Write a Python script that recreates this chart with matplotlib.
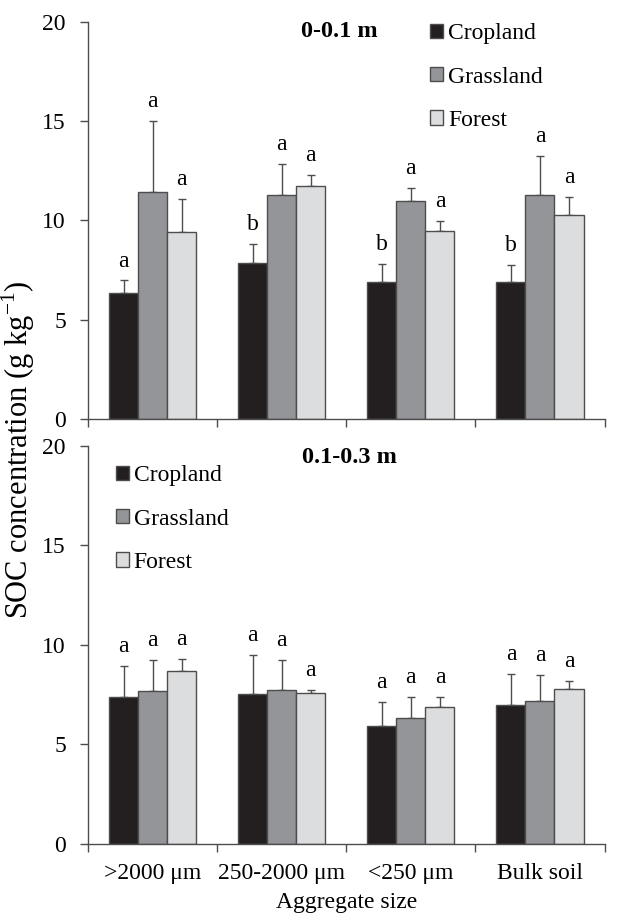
import matplotlib
matplotlib.use("Agg")
import matplotlib.pyplot as plt
import numpy as np

plt.rcParams['font.family'] = ['Liberation Serif', 'DejaVu Serif']
plt.rcParams['mathtext.fontset'] = 'custom'
plt.rcParams['mathtext.rm'] = 'Liberation Serif'

categories = [">2000 \u03bcm", "250-2000 \u03bcm", "<250 \u03bcm", "Bulk soil"]
land_uses = ["Cropland", "Grassland", "Forest"]

# 0-0.1 m
top_mean = {
    "Cropland": [6.35, 7.85, 6.92, 6.92],
    "Grassland": [11.45, 11.3, 11.0, 11.3],
    "Forest": [9.41, 11.75, 9.48, 10.29],
}
top_err = {
    "Cropland": [0.63, 0.99, 0.91, 0.86],
    "Grassland": [3.57, 1.55, 0.63, 1.95],
    "Forest": [1.69, 0.52, 0.50, 0.89],
}
top_letters = {
    "Cropland": ["a", "b", "b", "b"],
    "Grassland": ["a", "a", "a", "a"],
    "Forest": ["a", "a", "a", "a"],
}

# 0.1-0.3 m
bot_mean = {
    "Cropland": [7.38, 7.53, 5.92, 6.96],
    "Grassland": [7.67, 7.72, 6.31, 7.16],
    "Forest": [8.70, 7.58, 6.88, 7.78],
}
bot_err = {
    "Cropland": [1.57, 1.98, 1.22, 1.58],
    "Grassland": [1.55, 1.50, 1.07, 1.33],
    "Forest": [0.61, 0.15, 0.50, 0.41],
}
bot_letters = {
    "Cropland": ["a", "a", "a", "a"],
    "Grassland": ["a", "a", "a", "a"],
    "Forest": ["a", "a", "a", "a"],
}

colors = {"Cropland": "#231f20", "Grassland": "#939598", "Forest": "#dcdddf"}
edge = "#4d4d4d"
fs = 17

fig = plt.figure(figsize=(6.2, 9.13), dpi=100)
ax1 = fig.add_axes([0.142, 0.541, 0.833, 0.435])
ax2 = fig.add_axes([0.142, 0.076, 0.833, 0.4355])


def draw(ax, means, errs, letters, title, title_xy, leg_anchor):
    x = np.arange(len(categories)) + 0.5
    w = 0.225
    for j, lu in enumerate(land_uses):
        pos = x + (j - 1) * w
        ax.bar(pos, means[lu], w, color=colors[lu], edgecolor=edge,
               linewidth=1, label=lu, zorder=2)
        ax.errorbar(pos, means[lu], yerr=[np.zeros(4), errs[lu]], fmt="none",
                    ecolor=edge, elinewidth=1, capsize=3, capthick=1, zorder=1)
        for p, m, e, l in zip(pos, means[lu], errs[lu], letters[lu]):
            ax.text(p, m + e + 0.45, l, ha="center", va="bottom", fontsize=fs)
    ax.set_xlim(0, 4)
    ax.set_ylim(0, 20)
    ax.set_yticks([0, 5, 10, 15, 20])
    ax.set_xticks([0, 1, 2, 3, 4])
    ax.set_xticklabels([])
    ax.set_xticks(x, minor=True)
    ax.tick_params(axis="x", which="major", length=6, color=edge, width=1)
    ax.tick_params(axis="x", which="minor", length=0, labelsize=fs, pad=14)
    ax.tick_params(axis="y", length=6, color=edge, width=1, labelsize=fs, pad=10)
    for s in ["top", "right"]:
        ax.spines[s].set_visible(False)
    for s in ["left", "bottom"]:
        ax.spines[s].set_color(edge)
        ax.spines[s].set_linewidth(1)
    ax.text(title_xy[0], title_xy[1], title, transform=ax.transAxes,
            ha="center", va="center", fontsize=fs + 0.5, fontweight="bold")
    ax.legend(loc="upper left", bbox_to_anchor=leg_anchor, frameon=False,
              fontsize=fs, handlelength=0.55, handleheight=0.55,
              handletextpad=0.2, labelspacing=0.95, borderpad=0,
              borderaxespad=0)


draw(ax1, top_mean, top_err, top_letters, "0-0.1 m", (0.486, 0.975),
     (0.663, 0.997))
draw(ax2, bot_mean, bot_err, bot_letters, "0.1-0.3 m", (0.506, 0.972),
     (0.054, 0.952))
ax2.set_xticklabels(categories, minor=True)
ax2.set_xlabel("Aggregate size", fontsize=fs, labelpad=6)

fig.text(0.03, 0.507, "SOC concentration (g kg$^{\\mathrm{-1}}$)", rotation=90,
         ha="center", va="center", fontsize=22)

fig.savefig("out.png", dpi=100)
